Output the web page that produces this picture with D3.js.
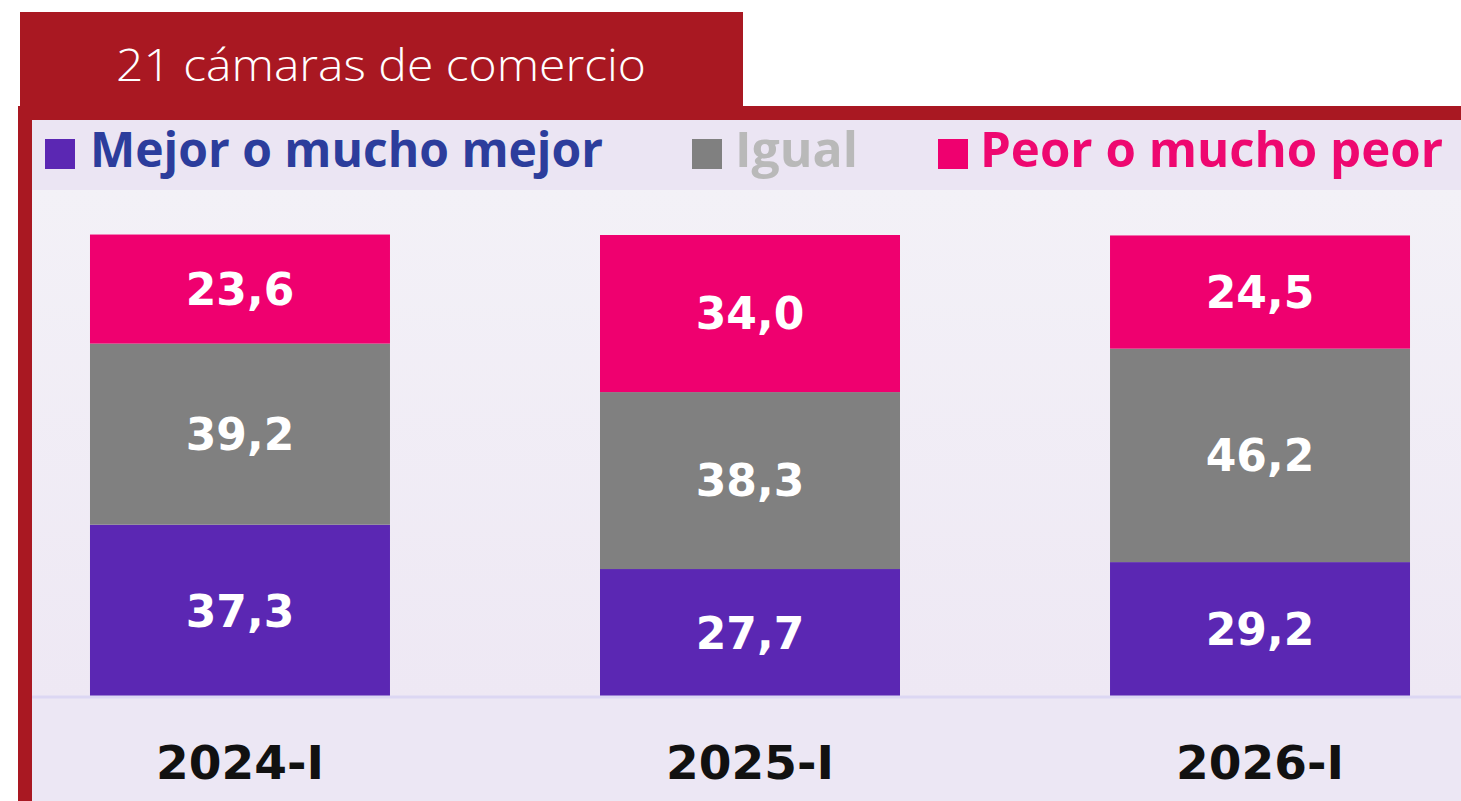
<!DOCTYPE html>
<html>
<head>
<meta charset="utf-8">
<script src="https://cdn.jsdelivr.net/npm/d3@7/dist/d3.min.js"></script>
<style>
  html, body { margin: 0; padding: 0; background: #ffffff; }
  svg { display: block; }
</style>
</head>
<body>
<svg id="chart" width="1461" height="801"></svg>
<script>
// ---- Data ----
const title = "21 cámaras de comercio";
const categories = ["2024-I", "2025-I", "2026-I"];
const seriesNames = ["Mejor o mucho mejor", "Igual", "Peor o mucho peor"];
const mejor = [37.3, 27.7, 29.2];
const igual = [39.2, 38.3, 46.2];
const peor  = [23.6, 34.0, 24.5];

// ---- Styles ----
const seriesColors = ["#5B27B3", "#808080", "#EF006F"];
const legendTextColors = ["#2C3D9C", "#B9B9B9", "#EE0870"];
const red = "#A91822";

const rows = categories.map((c, i) => ({ cat: c, "Mejor o mucho mejor": mejor[i], "Igual": igual[i], "Peor o mucho peor": peor[i] }));
const stacked = d3.stack().keys(seriesNames)(rows);

const locale = d3.formatLocale({ decimal: ",", thousands: ".", grouping: [3], currency: ["", ""] });
const fmt = locale.format(".1f");

const svg = d3.select("#chart");

// gradient for plot area
const defs = svg.append("defs");
const grad = defs.append("linearGradient").attr("id", "bg").attr("x1", 0).attr("y1", 0).attr("x2", 0).attr("y2", 1);
grad.append("stop").attr("offset", "0%").attr("stop-color", "#F3F1F7");
grad.append("stop").attr("offset", "100%").attr("stop-color", "#EEE8F4");

// Header box
svg.append("rect").attr("x", 20).attr("y", 12).attr("width", 723).attr("height", 96).attr("fill", red);
svg.append("text").attr("x", 381).attr("y", 81).attr("text-anchor", "middle")
  .attr("font-family", "'Open Sans', sans-serif").attr("font-weight", 300)
  .attr("font-size", 44).attr("fill", "#ffffff")
  .attr("textLength", 530).attr("lengthAdjust", "spacingAndGlyphs")
  .text(title);

// Red frame
svg.append("rect").attr("x", 18).attr("y", 106).attr("width", 1443).attr("height", 14).attr("fill", red);
svg.append("rect").attr("x", 18).attr("y", 106).attr("width", 14).attr("height", 695).attr("fill", red);

// Panel backgrounds
svg.append("rect").attr("x", 32).attr("y", 120).attr("width", 1429).attr("height", 70).attr("fill", "#EBE5F3");
svg.append("rect").attr("x", 32).attr("y", 190).attr("width", 1429).attr("height", 507).attr("fill", "url(#bg)");
svg.append("rect").attr("x", 32).attr("y", 697).attr("width", 1429).attr("height", 104).attr("fill", "#ECE7F4");

// Legend
const legendSquareX = [45, 692, 938];
const legendTextX = [90, 735, 980];
const legendTextLen = [513, 123, 463];
const legend = svg.append("g");
seriesNames.forEach((name, i) => {
  legend.append("rect").attr("x", legendSquareX[i]).attr("y", 139).attr("width", 30).attr("height", 30).attr("fill", seriesColors[i]);
  legend.append("text").attr("x", legendTextX[i]).attr("y", 167)
    .attr("font-family", "'Open Sans', sans-serif").attr("font-weight", 700)
    .attr("font-size", 48).attr("fill", legendTextColors[i])
    .attr("textLength", legendTextLen[i]).attr("lengthAdjust", "spacingAndGlyphs")
    .text(name);
});

// Scales
const x = d3.scaleBand().domain(categories).range([32, 1468]).paddingInner(0.4118).paddingOuter(0.1137);
const y = d3.scaleLinear().domain([0, 100]).range([697, 235]);

// Bars
const layers = svg.append("g").selectAll("g").data(stacked).join("g")
  .attr("fill", (d, i) => seriesColors[i]);
layers.selectAll("rect").data(d => d).join("rect")
  .attr("x", d => x(d.data.cat))
  .attr("width", x.bandwidth())
  .attr("y", d => y(d[1]))
  .attr("height", d => y(d[0]) - y(d[1]));

// Value labels
const labels = svg.append("g");
stacked.forEach(layer => {
  layer.forEach(d => {
    labels.append("text")
      .attr("x", x(d.data.cat) + x.bandwidth() / 2)
      .attr("y", (y(d[0]) + y(d[1])) / 2)
      .attr("dy", "0.36em")
      .attr("text-anchor", "middle")
      .attr("font-family", "'DejaVu Sans', sans-serif").attr("font-weight", 700)
      .attr("font-size", 44).attr("fill", "#ffffff")
      .text(fmt(d[1] - d[0]));
  });
});

// Axis
const axis = svg.append("g").attr("transform", "translate(0,697)")
  .call(d3.axisBottom(x).tickSize(0).tickPadding(0));
axis.select(".domain").attr("stroke", "#DCD7F3").attr("stroke-width", 3)
  .attr("d", "M32,0H1461");
axis.selectAll(".tick text")
  .attr("y", 82).attr("dy", 0)
  .attr("font-family", "'DejaVu Sans', sans-serif").attr("font-weight", 700)
  .attr("font-size", 47).attr("fill", "#111111");
</script>
</body>
</html>
